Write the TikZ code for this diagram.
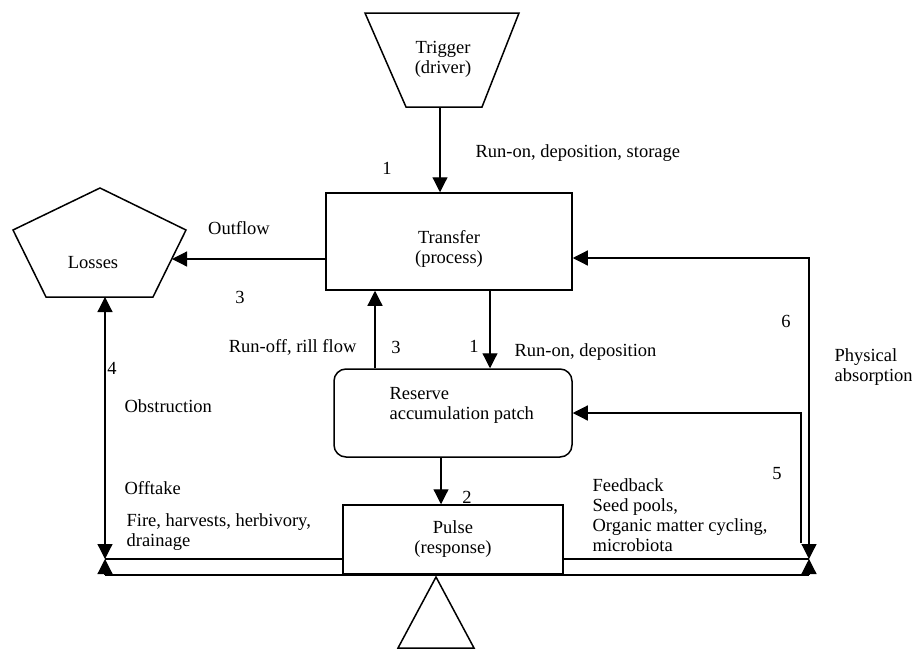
\documentclass[tikz,border=0pt]{standalone}
\usepackage{fontspec}
\setmainfont{Liberation Serif}
\usetikzlibrary{shapes.geometric,arrows.meta,positioning}

\begin{document}
\begin{tikzpicture}[x=1pt,y=-1pt,
  font=\rmfamily\fontsize{18.5}{20}\selectfont,
  >={Triangle[length=15pt,width=15pt]},
  line width=1.2pt,
  box/.style={draw,line width=1.5pt,align=center},
  lbl/.style={align=left,inner sep=0pt}]
\useasboundingbox (0,0) rectangle (912,648);

\node[align=center] (trigger) at (443,59) {Trigger\\(driver)};
\draw[line width=1.5pt] (365,13) -- (519,13) -- (482,107) -- (406,107) -- cycle;
\node[box,minimum width=246pt,minimum height=97pt] (transfer) at (449,241.5) {};
\node[align=center] (transfertxt) at (449,249) {Transfer\\(process)};
\node[box,rounded corners=12pt,minimum width=238pt,minimum height=88pt] (reserve) at (453,413) {};
\node[lbl,anchor=west] (reservetxt) at (389,405) {Reserve\\accumulation patch};
\node[box,minimum width=220pt,minimum height=69pt] (pulse) at (453,539.5) {Pulse\\(response)};
\node (losses) at (93,263) {Losses};
\draw[line width=1.5pt] (100,188) -- (186,230) -- (153,297) -- (46,297) -- (13,230) -- cycle;
\draw[line width=1.5pt] (436,577) -- (474,648) -- (398,648) -- cycle;

\coordinate (trigbot) at (440,107);
\coordinate (lossR) at (172,259);
\coordinate (lossB) at (105,297);
\coordinate (lb) at (105,559);
\coordinate (lbot) at (105,575);
\coordinate (rb) at (809,559);
\coordinate (rbot) at (809,575);
\coordinate (r6) at (809,258);
\coordinate (r5) at (801,543);

\draw[->] (trigbot) -- (trigbot |- transfer.north);
\draw[->] (transfer.west |- lossR) -- (lossR);
\draw[->] ([xshift=41pt]transfer.south) -- ([xshift=41pt]transfer.south |- reserve.north);
\draw[->] ([xshift=-74pt]transfer.south |- reserve.north) -- ([xshift=-74pt]transfer.south);
\draw[->] ([xshift=-12pt]reserve.south) -- ([xshift=-12pt]reserve.south |- pulse.north);
\draw[<->] (lossB) -- (lb);
\draw[->] (lbot) -- (lb);
\draw (pulse.west |- lb) -- (lb);
\draw (pulse.east |- rb) -- (rb);
\draw (lbot) -- (rbot);
\draw[<->] (transfer.east |- r6) -- (r6) -- (rb);
\draw[->] (rbot) -- (rb);
\draw[->] (r5) |- (reserve.east);

\node (n1a) at (387,168) {1};
\node[lbl,anchor=west] (runon) at (475,153) {Run-on, deposition, storage};
\node (outflow) at (239,228) {Outflow};
\node (n3a) at (240,297) {3};
\node[lbl,anchor=east] (runoff) at (357,347) {Run-off, rill flow};
\node (n3b) at (396,347) {3};
\node (n1b) at (474,346) {1};
\node[lbl,anchor=west] (runon2) at (514,352) {Run-on, deposition};
\node (n4) at (112,368) {4};
\node[lbl,anchor=west] (obst) at (124,406) {Obstruction};
\node[lbl,anchor=west] (offtake) at (124,488) {Offtake};
\node[lbl,anchor=west] (fire) at (126,532) {Fire, harvests, herbivory,\\drainage};
\node (n2) at (467,497) {2};
\node[lbl,anchor=west] (feedback) at (592,515) {Feedback\\Seed pools,\\Organic matter cycling,\\microbiota};
\node (n5) at (777,474) {5};
\node (n6) at (786,321) {6};
\node[lbl,anchor=west] (phys) at (834,367) {Physical\\absorption};
\end{tikzpicture}
\end{document}
